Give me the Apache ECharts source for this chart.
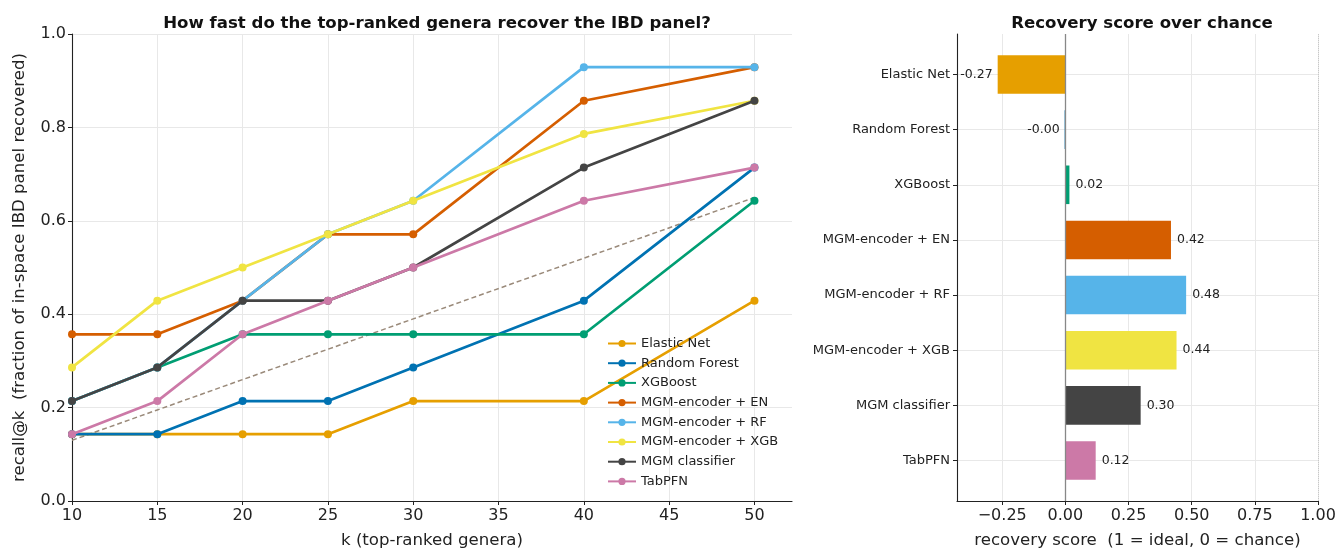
<!DOCTYPE html>
<html>
<head>
<meta charset="utf-8">
<script src="https://cdn.jsdelivr.net/npm/echarts@6/dist/echarts.min.js"></script>
<style>html,body{margin:0;padding:0;background:#fff}#c{width:1338px;height:550px}</style>
</head>
<body>
<div id="c"></div>
<script>
// ---- data ----
const kValues = [10, 15, 20, 25, 30, 40, 50];
const seriesNames = ['Elastic Net', 'Random Forest', 'XGBoost', 'MGM-encoder + EN', 'MGM-encoder + RF', 'MGM-encoder + XGB', 'MGM classifier', 'TabPFN'];
const elasticNet   = [0.143, 0.143, 0.143, 0.143, 0.214, 0.214, 0.429];
const randomForest = [0.143, 0.143, 0.214, 0.214, 0.286, 0.429, 0.714];
const xgboost      = [0.214, 0.286, 0.357, 0.357, 0.357, 0.357, 0.643];
const mgmEncEN     = [0.357, 0.357, 0.429, 0.571, 0.571, 0.857, 0.929];
const mgmEncRF     = [0.214, 0.286, 0.429, 0.571, 0.643, 0.929, 0.929];
const mgmEncXGB    = [0.286, 0.429, 0.500, 0.571, 0.643, 0.786, 0.857];
const mgmClassifier= [0.214, 0.286, 0.429, 0.429, 0.500, 0.714, 0.857];
const tabPFN       = [0.143, 0.214, 0.357, 0.429, 0.500, 0.643, 0.714];
const chance       = [0.130, 0.195, 0.260, 0.325, 0.390, 0.520, 0.650];
const recallSeries = [elasticNet, randomForest, xgboost, mgmEncEN, mgmEncRF, mgmEncXGB, mgmClassifier, tabPFN];
const xTicks = [10, 15, 20, 25, 30, 35, 40, 45, 50];

const barCategories = seriesNames;
const recoveryScores = [-0.268, -0.003, 0.016, 0.418, 0.478, 0.440, 0.298, 0.120];
const scoreTicks = [-0.25, 0, 0.25, 0.5, 0.75, 1.0];

const colors = ['#E69F00', '#0072B2', '#009E73', '#D55E00', '#56B4E9', '#F0E442', '#444444', '#CC79A7'];

// ---- chart ----
const FONT = 'DejaVu Sans';
const chart = echarts.init(document.getElementById('c'), null, {renderer: 'canvas'});

const lineSeries = recallSeries.map((arr, i) => ({
  name: seriesNames[i], type: 'line', xAxisIndex: 0, yAxisIndex: 0,
  data: kValues.map((k, j) => [k, arr[j]]),
  symbol: 'circle', symbolSize: 8,
  lineStyle: {width: 2.7, color: colors[i]},
  itemStyle: {color: colors[i]},
  z: 3 + i * 0.01, animation: false
}));

const catIdx = barCategories.map((_, i) => i);

const option = {
  animation: false,
  textStyle: {fontFamily: FONT},
  title: [
    {text: 'How fast do the top-ranked genera recover the IBD panel?', left: 432, top: 10, textAlign: 'center',
     textStyle: {fontFamily: FONT, fontWeight: 'bold', fontSize: 16.6, color: '#111'}},
    {text: 'Recovery score over chance', left: 1137, top: 10, textAlign: 'center',
     textStyle: {fontFamily: FONT, fontWeight: 'bold', fontSize: 16.6, color: '#111'}}
  ],
  legend: {
    data: seriesNames, orient: 'vertical', left: 602, top: 331,
    itemWidth: 28, itemHeight: 9, itemGap: 4.7,
    textStyle: {fontFamily: FONT, fontSize: 13, color: '#222', lineHeight: 15}
  },
  grid: [
    {left: 72, top: 34, width: 720, height: 467, outerBoundsMode: 'none', containLabel: false},
    {left: 957, top: 34, width: 361, height: 467, outerBoundsMode: 'none', containLabel: false}
  ],
  xAxis: [
    {gridIndex: 0, type: 'value', min: 10, max: 52.2,
     name: 'k (top-ranked genera)', nameLocation: 'middle', nameGap: 31,
     nameTextStyle: {fontFamily: FONT, fontSize: 16.6, color: '#222'},
     axisLine: {onZero: false, lineStyle: {color: '#222', width: 1.1}},
     axisTick: {customValues: xTicks, length: 4, lineStyle: {color: '#222'}},
     axisLabel: {customValues: xTicks, fontFamily: FONT, fontSize: 16, color: '#222', margin: 7},
     splitLine: {show: true, lineStyle: {color: '#e8e8e8', width: 1}}},
    {gridIndex: 1, type: 'value', min: -0.429, max: 1.0,
     name: 'recovery score  (1 = ideal, 0 = chance)', nameLocation: 'middle', nameGap: 31,
     nameTextStyle: {fontFamily: FONT, fontSize: 16.6, color: '#222'},
     axisLine: {onZero: false, lineStyle: {color: '#222', width: 1.1}},
     axisTick: {customValues: scoreTicks, length: 4, lineStyle: {color: '#222'}},
     axisLabel: {customValues: scoreTicks, fontFamily: FONT, fontSize: 16, color: '#222', margin: 7,
       formatter: v => (v < 0 ? '\u2212' : '') + Math.abs(v).toFixed(2)},
     splitLine: {show: true, lineStyle: {color: '#e8e8e8', width: 1}}}
  ],
  yAxis: [
    {gridIndex: 0, type: 'value', min: 0, max: 1, interval: 0.2,
     name: 'recall@k  (fraction of in-space IBD panel recovered)', nameLocation: 'middle', nameGap: 44,
     nameTextStyle: {fontFamily: FONT, fontSize: 16.6, color: '#222'},
     axisLine: {show: true, onZero: false, lineStyle: {color: '#222', width: 1.1}},
     axisTick: {show: true, length: 4, lineStyle: {color: '#222'}},
     axisLabel: {fontFamily: FONT, fontSize: 16, color: '#222', margin: 6, formatter: v => v.toFixed(1)},
     splitLine: {show: true, lineStyle: {color: '#e8e8e8', width: 1}}},
    {gridIndex: 1, type: 'value', inverse: true, min: -0.735, max: 7.735,
     axisLine: {show: true, onZero: false, lineStyle: {color: '#222', width: 1.1}},
     axisTick: {show: true, customValues: catIdx, length: 4, lineStyle: {color: '#222'}},
     axisLabel: {customValues: catIdx, fontFamily: FONT, fontSize: 13, color: '#222', margin: 7,
       formatter: v => barCategories[Math.round(v)]},
     splitLine: {show: true, lineStyle: {color: '#e8e8e8', width: 1}}}
  ],
  series: [
    ...lineSeries,
    {name: 'chance', type: 'line', xAxisIndex: 0, yAxisIndex: 0,
     data: kValues.map((k, j) => [k, chance[j]]), showSymbol: false, symbol: 'none',
     lineStyle: {type: [5, 3], width: 1.5, color: '#9a8a7a'}, z: 2},
    {type: 'custom', xAxisIndex: 1, yAxisIndex: 1,
     data: recoveryScores.map((v, i) => [v, i]),
     encode: {x: 0, y: 1},
     renderItem: (params, api) => {
       const v = api.value(0), i = api.value(1);
       const p0 = api.coord([0, i]);
       const p1 = api.coord([v, i]);
       const h = Math.abs(api.size([0, 0.7])[1]);
       const x = Math.min(p0[0], p1[0]);
       const w = Math.max(Math.abs(p1[0] - p0[0]), 0.6);
       const pos = v >= 0;
       return {type: 'group', children: [
         {type: 'rect', shape: {x: x, y: p0[1] - h / 2, width: w, height: h},
          style: {fill: colors[i]}},
         {type: 'text', x: pos ? p1[0] + 6 : p1[0] - 5, y: p0[1],
          style: {text: v.toFixed(2), textAlign: pos ? 'left' : 'right', textVerticalAlign: 'middle',
                  fill: '#222', font: '12.5px "DejaVu Sans"'}}
       ]};
     }, z: 3},
    {type: 'line', xAxisIndex: 1, yAxisIndex: 1, data: [], silent: true,
     markLine: {symbol: 'none', silent: true, label: {show: false},
       data: [
         {xAxis: 0, lineStyle: {color: '#888', width: 1.3, type: 'solid'}},
         {xAxis: 1.0, lineStyle: {color: '#c8c8c8', width: 1, type: 'dotted'}}
       ]}, z: 4}
  ]
};
chart.setOption(option);
</script>
</body>
</html>
